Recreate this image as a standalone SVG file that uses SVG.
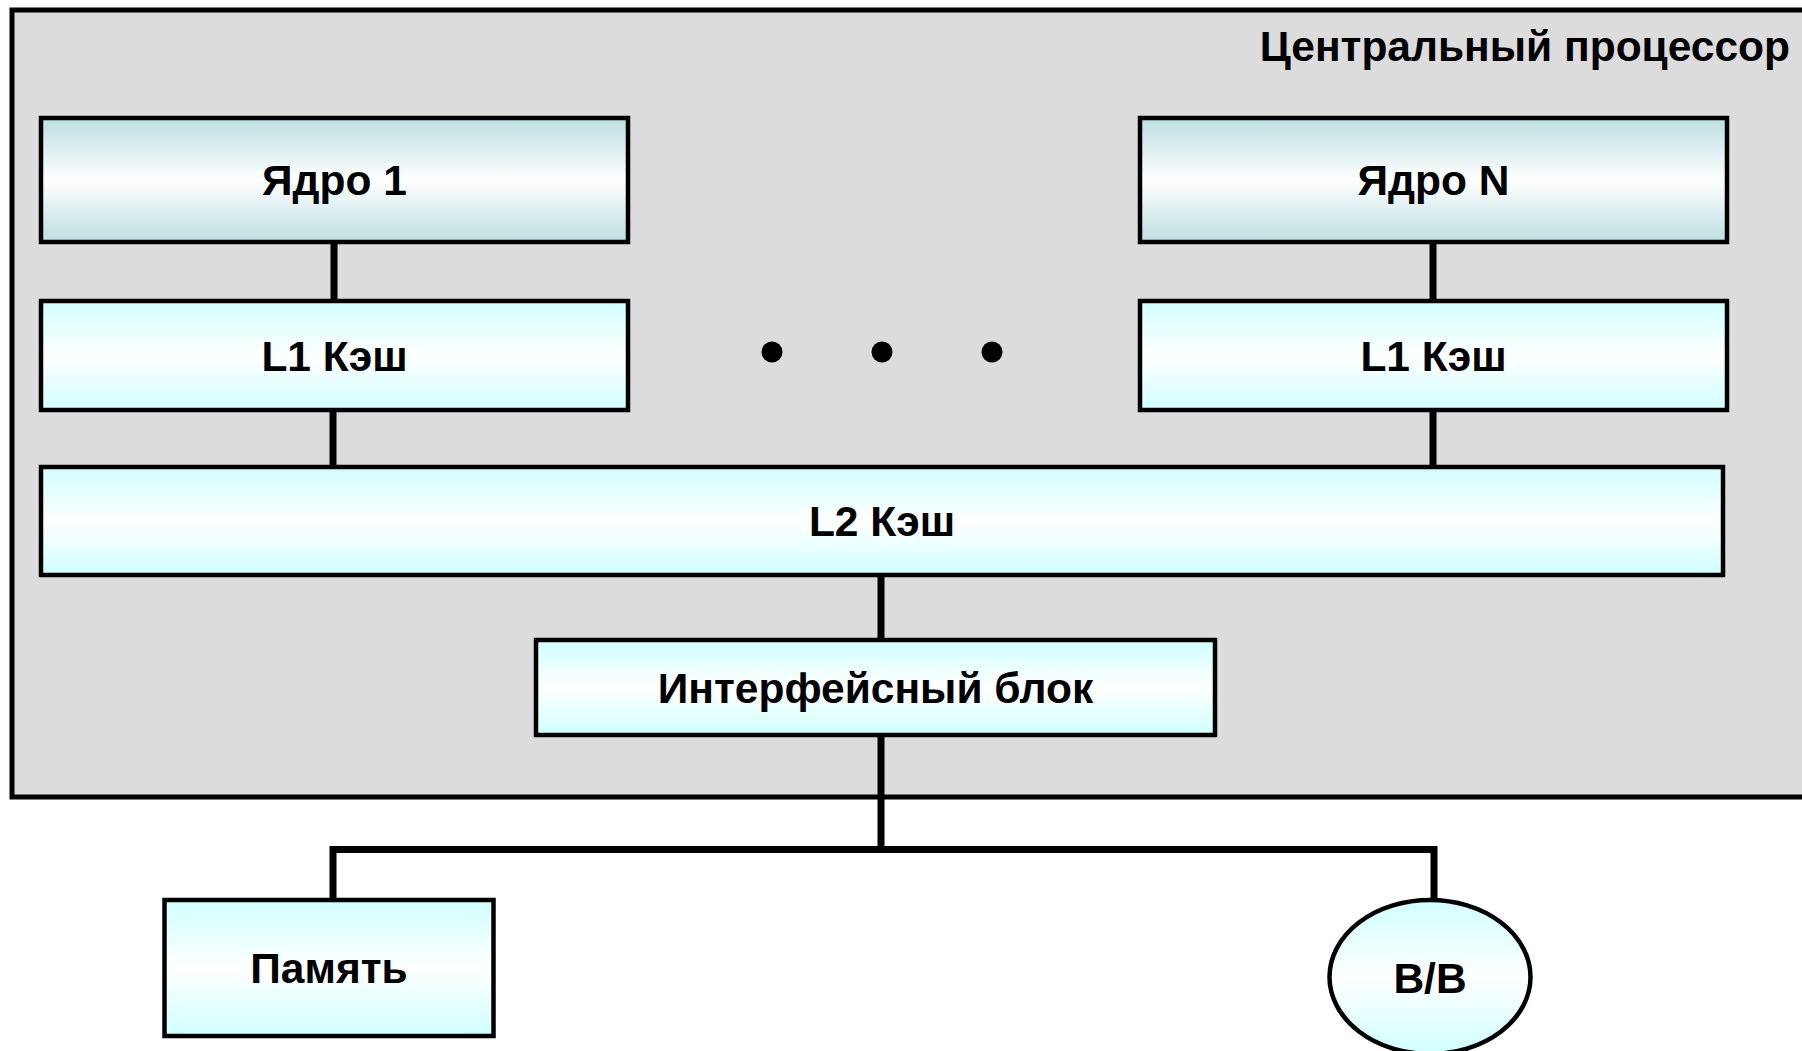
<svg xmlns="http://www.w3.org/2000/svg" width="1802" height="1051" viewBox="0 0 1802 1051">
  <defs>
    <linearGradient id="gCore" x1="0" y1="0" x2="0" y2="1">
      <stop offset="0" stop-color="#bcdee1"/>
      <stop offset="0.5" stop-color="#ffffff"/>
      <stop offset="1" stop-color="#bcdee1"/>
    </linearGradient>
    <linearGradient id="gCache" x1="0" y1="0" x2="0" y2="1">
      <stop offset="0" stop-color="#d0ffff"/>
      <stop offset="0.5" stop-color="#ffffff"/>
      <stop offset="1" stop-color="#d0ffff"/>
    </linearGradient>
    <style>
      .box { stroke: #000; stroke-width: 4.5; }
      .core { fill: url(#gCore); }
      .cache { fill: url(#gCache); }
      .lbl { font-family: "Liberation Sans", Arial, sans-serif; font-weight: bold; font-size: 42.5px; fill: #000; text-anchor: middle; }
      .conn { stroke: #000; stroke-width: 7; fill: none; }
    </style>
  </defs>
  <rect width="1802" height="1051" fill="#ffffff"/>

  <g id="cpu">
    <rect x="12" y="10" width="1810" height="787" fill="#dcdcdc" stroke="#000" stroke-width="5"/>
    <text class="lbl" x="1790" y="61" style="text-anchor:end">Центральный процессор</text>
  </g>

  <g id="connectors">
    <line class="conn" x1="334" y1="244" x2="334" y2="299"/>
    <line class="conn" x1="333" y1="412" x2="333" y2="465"/>
    <line class="conn" x1="1433" y1="244" x2="1433" y2="299"/>
    <line class="conn" x1="1433" y1="412" x2="1433" y2="465"/>
    <line class="conn" x1="881" y1="577" x2="881" y2="638"/>
    <polyline class="conn" points="881,737 881,849.5"/>
    <polyline class="conn" points="333,898 333,849.5 1434,849.5 1434,898"/>
  </g>

  <g id="core1">
    <rect class="box core" x="41" y="118" width="587" height="124"/>
    <text class="lbl" x="334.5" y="195">Ядро 1</text>
  </g>
  <g id="coreN">
    <rect class="box core" x="1140" y="118" width="587" height="124"/>
    <text class="lbl" x="1433.5" y="195">Ядро N</text>
  </g>
  <g id="l1-1">
    <rect class="box cache" x="41" y="301" width="587" height="109"/>
    <text class="lbl" x="334.5" y="370.5">L1 Кэш</text>
  </g>
  <g id="l1-N">
    <rect class="box cache" x="1140" y="301" width="587" height="109"/>
    <text class="lbl" x="1433.5" y="370.5">L1 Кэш</text>
  </g>
  <g id="dots">
    <circle cx="772" cy="352" r="10.5" fill="#000"/>
    <circle cx="882" cy="352" r="10.5" fill="#000"/>
    <circle cx="992" cy="352" r="10.5" fill="#000"/>
  </g>
  <g id="l2">
    <rect class="box cache" x="41" y="467" width="1682" height="108"/>
    <text class="lbl" x="882" y="536">L2 Кэш</text>
  </g>
  <g id="interface">
    <rect class="box cache" x="536" y="640" width="679" height="95"/>
    <text class="lbl" x="875.5" y="702.5">Интерфейсный блок</text>
  </g>
  <g id="memory">
    <rect class="box cache" x="164.5" y="900" width="329" height="136"/>
    <text class="lbl" x="329" y="983">Память</text>
  </g>
  <g id="io">
    <ellipse class="box cache" cx="1430" cy="977" rx="100.5" ry="77"/>
    <text class="lbl" x="1430" y="992.5">В/В</text>
  </g>
</svg>
